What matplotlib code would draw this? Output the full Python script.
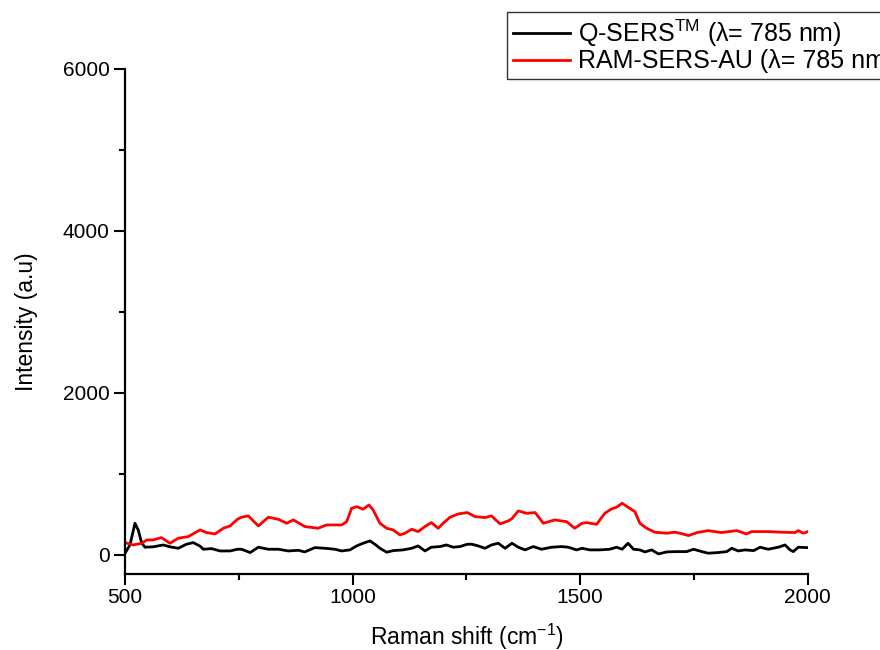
import matplotlib
matplotlib.use("Agg")
import matplotlib.pyplot as plt
from matplotlib.ticker import MultipleLocator

plt.rcParams["font.family"] = ["Liberation Sans", "DejaVu Sans"]
plt.rcParams["mathtext.fontset"] = "custom"
plt.rcParams["mathtext.rm"] = "Liberation Sans"
plt.rcParams["mathtext.it"] = "Liberation Sans"

# Q-SERS (black)
qsers_x = [500, 511, 522, 529, 537, 544, 562, 584, 599, 617, 635, 650, 665, 672, 690,
           709, 731, 747, 756, 775, 793, 815, 837, 859, 881, 895, 917, 939, 961, 976,
           994, 1009, 1023, 1038, 1049, 1060, 1075, 1089, 1111, 1130, 1144, 1159, 1173,
           1192, 1206, 1221, 1236, 1252, 1262, 1276, 1291, 1305, 1320, 1335, 1350, 1364,
           1379, 1397, 1415, 1437, 1459, 1474, 1492, 1504, 1521, 1543, 1565, 1580, 1592,
           1605, 1617, 1631, 1642, 1657, 1672, 1690, 1712, 1734, 1749, 1767, 1781, 1803,
           1822, 1833, 1847, 1862, 1881, 1895, 1913, 1935, 1950, 1961, 1968, 1979, 2000]
qsers_y = [20, 123, 391, 309, 144, 95, 100, 123, 100, 82, 132, 152, 108, 70, 78,
           49, 49, 70, 70, 29, 95, 70, 70, 49, 57, 37, 90, 82, 70, 49,
           62, 111, 144, 173, 132, 82, 33, 53, 62, 82, 111, 49, 95,
           103, 123, 95, 103, 132, 132, 111, 82, 123, 144, 82, 144, 95,
           62, 103, 70, 95, 103, 95, 62, 82, 62, 62, 70, 95, 70,
           144, 70, 62, 37, 62, 12, 37, 41, 41, 70, 41, 21, 29,
           41, 82, 49, 62, 53, 95, 70, 95, 123, 62, 41, 95, 90]

# RAM-SERS-AU (red)
ram_x = [500, 518, 537, 548, 562, 580, 599, 617, 639, 665, 679, 698, 716, 731, 747,
         756, 771, 793, 815, 837, 855, 870, 895, 924, 943, 976, 987, 998, 1009, 1023,
         1036, 1045, 1060, 1075, 1089, 1104, 1115, 1130, 1144, 1159, 1173, 1188, 1199,
         1214, 1232, 1252, 1269, 1291, 1305, 1324, 1342, 1350, 1364, 1382, 1401, 1419,
         1444, 1470, 1488, 1504, 1514, 1536, 1554, 1569, 1580, 1592, 1605, 1620, 1631,
         1646, 1664, 1690, 1708, 1719, 1738, 1757, 1781, 1810, 1844, 1865, 1877, 1913,
         1943, 1972, 1979, 1990, 2000]
ram_y = [152, 123, 144, 185, 185, 214, 144, 206, 226, 309, 276, 259, 329, 358, 440,
         465, 482, 358, 465, 440, 391, 432, 350, 329, 370, 370, 411, 576, 596, 564,
         617, 556, 391, 329, 309, 247, 268, 317, 288, 350, 399, 329, 391,
         465, 506, 523, 473, 461, 482, 383, 420, 448, 543, 514, 523, 391,
         432, 411, 329, 391, 399, 378, 514, 568, 589, 638, 589, 535, 391,
         329, 280, 268, 280, 268, 239, 276, 300, 276, 300, 259, 288, 288,
         280, 276, 300, 268, 288]

fig = plt.figure(figsize=(8.8, 6.5), dpi=100)
ax = fig.add_axes([0.142, 0.117, 0.776, 0.777])

ax.plot(qsers_x, qsers_y, color="black", lw=2.0, label="Q-SERS$^{\\mathrm{TM}}$ (λ= 785 nm)")
ax.plot(ram_x, ram_y, color="red", lw=2.0, label="RAM-SERS-AU (λ= 785 nm)")

ax.set_xlim(500, 2000)
ax.set_ylim(-235, 6000)
ax.xaxis.set_major_locator(MultipleLocator(500))
ax.xaxis.set_minor_locator(MultipleLocator(250))
ax.yaxis.set_major_locator(MultipleLocator(2000))
ax.yaxis.set_minor_locator(MultipleLocator(1000))

for side in ("top", "right"):
    ax.spines[side].set_visible(False)
for side in ("left", "bottom"):
    ax.spines[side].set_linewidth(1.6)

ax.tick_params(which="major", direction="out", length=8, width=1.5, labelsize=15)
ax.tick_params(axis="x", which="major", pad=2)
ax.tick_params(axis="y", which="major", pad=3)
ax.tick_params(which="minor", direction="out", length=4.5, width=1.5)

ax.set_xlabel("Raman shift (cm$^{-1}$)", fontsize=16.5, labelpad=11)
ax.set_ylabel("Intensity (a.u)", fontsize=16.5, labelpad=18)

leg = fig.legend(loc="upper left", bbox_to_anchor=(507 / 880, 1 - 12 / 650),
                 borderaxespad=0, fontsize=18, frameon=True, fancybox=False,
                 handlelength=2.3, handletextpad=0.3, labelspacing=0.02,
                 borderpad=0.22)
leg.get_frame().set_edgecolor("black")
leg.get_frame().set_linewidth(1.0)
for line in leg.get_lines():
    line.set_linewidth(2.0)

fig.savefig("out.png", dpi=100)
